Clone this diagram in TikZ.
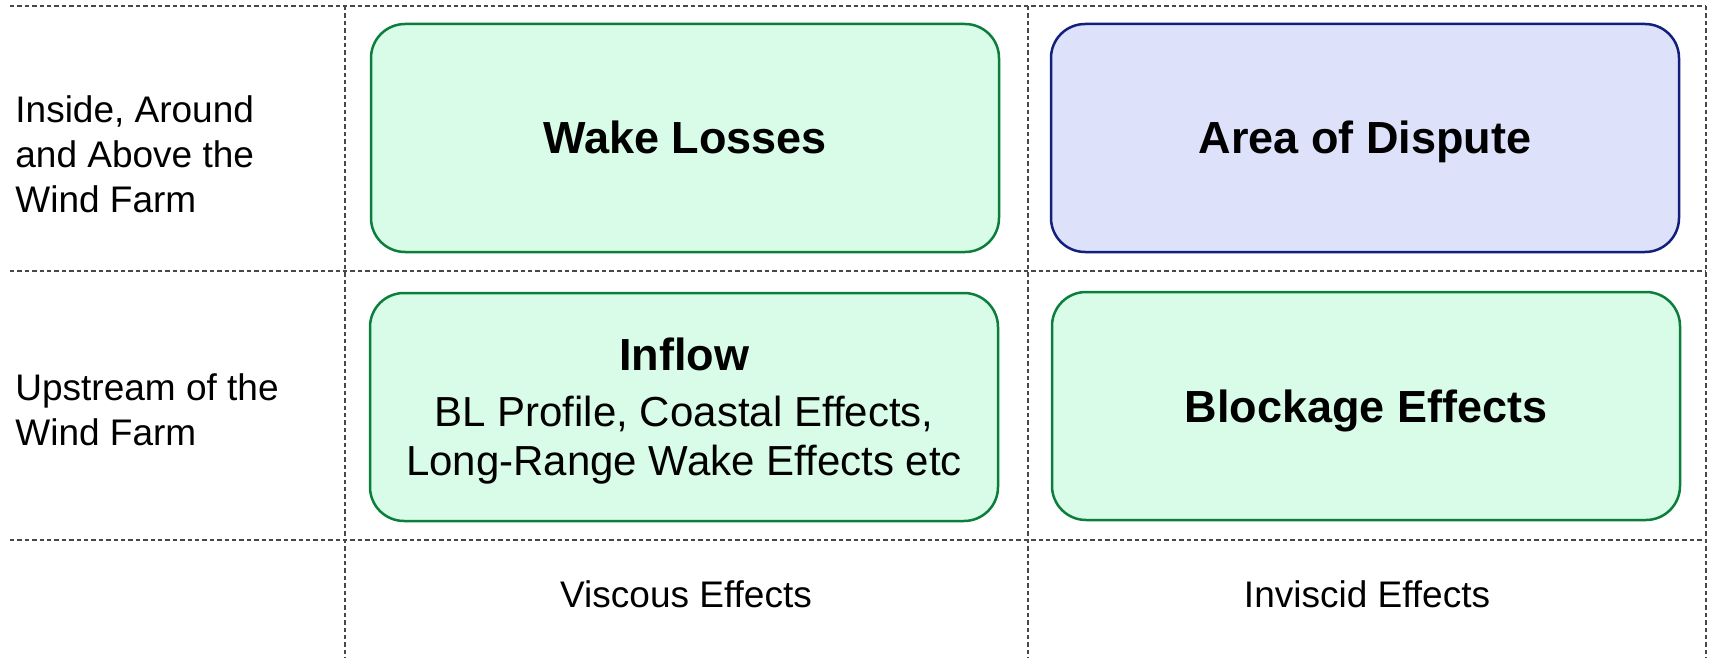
\documentclass[tikz,border=0pt]{standalone}
\usepackage{fontspec}
\setmainfont{Liberation Sans}
\usepackage{tikz}
\usepackage{xcolor}
\usetikzlibrary{positioning}

\definecolor{boxgreen}{HTML}{D8FCE7}
\definecolor{edgegreen}{HTML}{0B7E3C}
\definecolor{boxblue}{HTML}{DDE2FA}
\definecolor{edgeblue}{HTML}{12207C}
\definecolor{gridgray}{HTML}{484848}

\begin{document}
\begin{tikzpicture}[
  x=0.5pt, y=-0.5pt,
  cellbox/.style={draw=edgegreen, fill=boxgreen, line width=1.25pt, rounded corners=17pt,
    minimum width=314pt, minimum height=114pt, align=center, inner sep=0pt,
    font=\fontsize{22.5}{24.5}\selectfont\bfseries, text height=16pt, text depth=0pt},
  disputebox/.style={cellbox, draw=edgeblue, fill=boxblue},
  rowlabel/.style={anchor=north west, align=left, inner sep=0pt, font=\fontsize{18.5}{22.5}\selectfont},
  collabel/.style={anchor=base, inner sep=0pt, font=\fontsize{18.5}{22.5}\selectfont},
  gridline/.style={draw=gridgray, line width=0.65pt, dash pattern=on 2.2pt off 1.5pt}
]
\useasboundingbox (0,0) rectangle (1715,658);

% dashed grid
\draw[gridline] (10,6) -- (1706,6);
\draw[gridline] (10,271) -- (1706,271);
\draw[gridline] (10,540) -- (1706,540);
\draw[gridline] (345,6) -- (345,658);
\draw[gridline] (1028,6) -- (1028,658);
\draw[gridline] (1706,6) -- (1706,658);

% cells
\node[cellbox] (wake) at (685,138) {Wake Losses};
\node[disputebox] (dispute) at (1365,138) {Area of Dispute};
\node[cellbox, font=\fontsize{21}{24.5}\selectfont, text height={}, text depth=-1pt] (inflow) at (684,407)
  {{\fontsize{22.5}{24.5}\selectfont\bfseries Inflow}\\[3.5pt]BL Profile, Coastal Effects,\\Long-Range Wake Effects etc};
\node[cellbox] (blockage) at (1366,406) {Blockage Effects};

% row and column labels
\node[rowlabel] (inside) at (15,95) {Inside, Around\\and Above the\\Wind Farm};
\node[rowlabel] (upstream) at (15,373) {Upstream of the\\Wind Farm};
\node[collabel] (viscous) at (686,607) {Viscous Effects};
\node[collabel] (inviscid) at (1367,607) {Inviscid Effects};
\end{tikzpicture}
\end{document}
